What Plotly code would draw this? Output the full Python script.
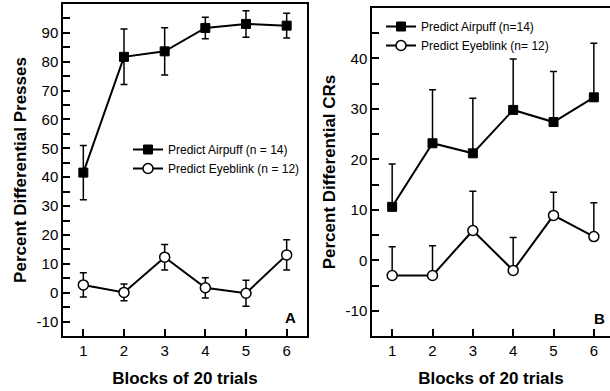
import plotly.graph_objects as go

blocks = [1, 2, 3, 4, 5, 6]

# Panel A: percent differential presses
a_airpuff = [41.6, 81.7, 83.6, 91.7, 93.1, 92.5]
a_airpuff_err = [9.4, 9.6, 8.2, 3.7, 4.6, 4.3]
a_eyeblink = [2.7, 0.1, 12.3, 1.7, -0.2, 13.1]
a_eyeblink_err = [4.2, 2.9, 4.4, 3.5, 4.5, 5.2]

# Panel B: percent differential CRs
b_airpuff = [10.6, 23.2, 21.2, 29.8, 27.4, 32.3]
b_airpuff_err = [8.5, 10.6, 10.9, 10.1, 10.0, 10.7]
b_eyeblink = [-3.0, -3.0, 5.9, -2.0, 8.9, 4.7]
b_eyeblink_err = [5.7, 5.9, 7.8, 6.5, 4.6, 6.7]

a_yticks = [-10, 0, 10, 20, 30, 40, 50, 60, 70, 80, 90]
a_yticklabels = ["-10", "0", "10", "20", "30", "40", "50", "60", "70", "80", "90"]
a_yminor = [-5, 5, 15, 25, 35, 45, 55, 65, 75, 85, 95]
b_yticks = [-10, 0, 10, 20, 30, 40]
b_yticklabels = ["-10", "0", "10", "20", "30", "40"]
b_yminor = [-5, 5, 15, 25, 35, 45]

FONT = "Liberation Sans, Arial, sans-serif"
W, H = 610, 391

fig = go.Figure()

def err(vals, sym=True):
    if sym:
        return dict(type="data", array=vals, visible=True, color="black",
                    thickness=1.5, width=3.5)
    return dict(type="data", symmetric=False, array=vals, arrayminus=[0] * len(vals),
                visible=True, color="black", thickness=1.5, width=3.5)

sq = dict(symbol="square", size=9, color="black", line=dict(color="black", width=1))
ci = dict(symbol="circle", size=10, color="white", line=dict(color="black", width=1.5))
ln = dict(color="black", width=2)

fig.add_trace(go.Scatter(x=blocks, y=a_airpuff, error_y=err(a_airpuff_err), mode="lines+markers",
                         marker=sq, line=ln, name="Predict Airpuff (n = 14)",
                         xaxis="x", yaxis="y", legend="legend"))
fig.add_trace(go.Scatter(x=blocks, y=a_eyeblink, error_y=err(a_eyeblink_err), mode="lines+markers",
                         marker=ci, line=ln, name="Predict Eyeblink (n = 12)",
                         xaxis="x", yaxis="y", legend="legend"))
fig.add_trace(go.Scatter(x=blocks, y=b_airpuff, error_y=err(b_airpuff_err, False), mode="lines+markers",
                         marker=sq, line=ln, name="Predict Airpuff (n=14)",
                         xaxis="x2", yaxis="y2", legend="legend2"))
fig.add_trace(go.Scatter(x=blocks, y=b_eyeblink, error_y=err(b_eyeblink_err, False), mode="lines+markers",
                         marker=ci, line=ln, name="Predict Eyeblink (n= 12)",
                         xaxis="x2", yaxis="y2", legend="legend2"))

def xax(domain, rng, anchor, mirror):
    return dict(domain=domain, range=rng, anchor=anchor, tickvals=blocks,
                ticks="inside", ticklen=7, tickwidth=1.5, tickcolor="black",
                showline=True, linecolor="black", linewidth=1.5, mirror=mirror,
                showgrid=False, zeroline=False,
                tickfont=dict(family=FONT, size=15, color="black"),
                title=dict(text="<b>Blocks of 20 trials</b>", standoff=14,
                           font=dict(family=FONT, size=17, color="black")))

def yax(domain, rng, anchor, ticks, labels, minor, title, mirror, standoff):
    return dict(domain=domain, range=rng, anchor=anchor, tickmode="array", tickvals=ticks,
                ticktext=labels,
                ticks="inside", ticklen=7, tickwidth=1.5, tickcolor="black",
                minor=dict(tickmode="array", tickvals=minor, ticks="inside", ticklen=7,
                           tickwidth=1.5, tickcolor="black"),
                showline=True, linecolor="black", linewidth=1.5, mirror=mirror,
                showgrid=False, zeroline=False,
                tickfont=dict(family=FONT, size=15, color="black"),
                title=dict(text="<b>" + title + "</b>", standoff=standoff,
                           font=dict(family=FONT, size=17, color="black")))

ybot = 1 - 336 / H
fig.update_layout(
    width=W, height=H, margin=dict(l=0, r=0, t=0, b=0),
    paper_bgcolor="white", plot_bgcolor="white",
    font=dict(family=FONT, color="black"),
    xaxis=xax([63 / W, 307 / W], [0.5, 6.5], "y", True),
    yaxis=yax([ybot, 1 - 4 / H], [-15, 100], "x", a_yticks, a_yticklabels, a_yminor,
              "Percent Differential Presses", True, 6),
    xaxis2=xax([372 / W, 1.0], [0.5, 6.4], "y2", True),
    yaxis2=yax([ybot, 1 - 8 / H], [-15, 50], "x2", b_yticks, b_yticklabels, b_yminor,
               "Percent Differential CRs", False, 6),
    legend=dict(x=128 / W, y=1 - 135 / H, xanchor="left", yanchor="top",
                bgcolor="rgba(0,0,0,0)", font=dict(family=FONT, size=12, color="black")),
    legend2=dict(x=381 / W, y=1 - 12 / H, xanchor="left", yanchor="top",
                 bgcolor="rgba(0,0,0,0)", font=dict(family=FONT, size=12, color="black")),
    annotations=[
        dict(text="<b>A</b>", x=290 / W, y=1 - 317 / H, xref="paper", yref="paper",
             xanchor="center", yanchor="middle",
             showarrow=False, font=dict(family=FONT, size=15, color="black")),
        dict(text="<b>B</b>", x=599 / W, y=1 - 318 / H, xref="paper", yref="paper",
             xanchor="center", yanchor="middle",
             showarrow=False, font=dict(family=FONT, size=15, color="black")),
    ],
)

fig.write_html("out.html")
